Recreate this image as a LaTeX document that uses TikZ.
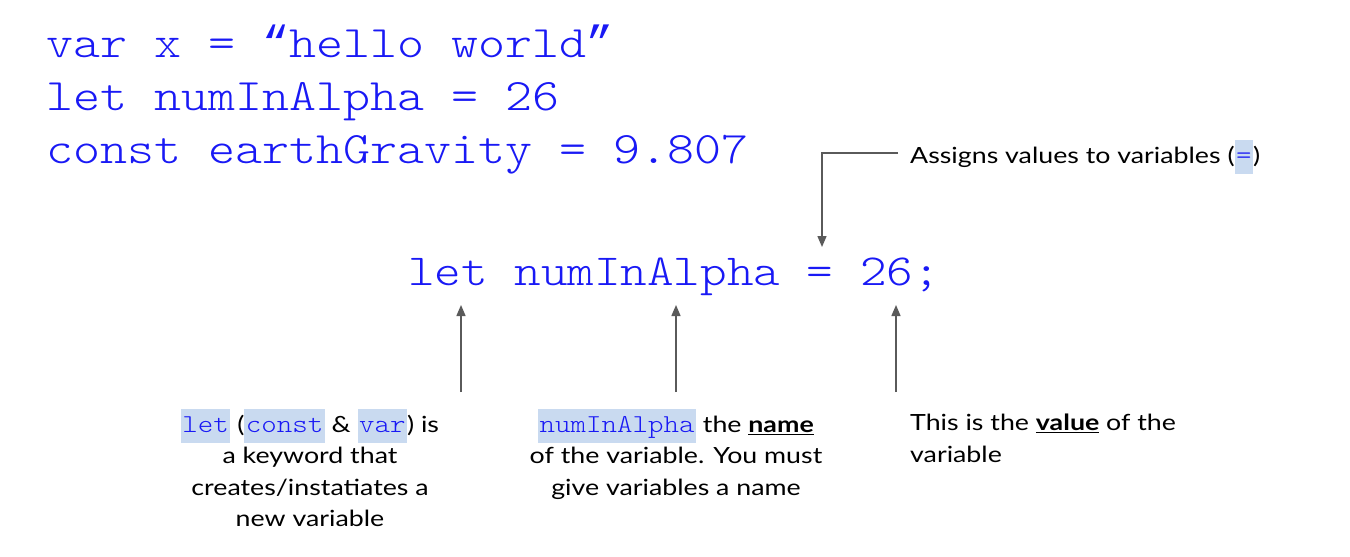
\documentclass[tikz,border=0pt]{standalone}
\usepackage{fontspec}
\setmainfont{Lato}[FakeStretch=1.2]
\newfontfamily\codefont{lmmonolt10-regular.otf}[FakeStretch=1.143]
\newfontfamily\quotefont{Liberation Mono}
\usetikzlibrary{arrows.meta}
\definecolor{codeblue}{RGB}{25,25,245}
\definecolor{hlblue}{RGB}{201,218,240}
\definecolor{arrgray}{RGB}{90,90,90}
\newcommand\hlcode[1]{{\setlength\fboxsep{1.5pt}\colorbox{hlblue}{\codefont\fontsize{25.8}{31}\selectfont\color{codeblue}\strut#1}}}
\newcommand\ulb[1]{\underline{\textbf{#1}}}
\newcommand\myopenq{{\quotefont “}}
\newcommand\mycloseq{{\quotefont ”}}
\tikzset{
  bigcode/.style={anchor=base west,inner sep=0pt,text=codeblue,font=\codefont\fontsize{45}{54}\selectfont},
  midcode/.style={anchor=base west,inner sep=0pt,text=codeblue,font=\codefont\fontsize{44.3}{54}\selectfont},
  lbl/.style={inner sep=0pt,font=\fontsize{22.3}{31.3}\selectfont,text=black},
  arr/.style={draw=arrgray,line width=1.4pt,-{Triangle[length=11pt,width=9pt]}}
}
\begin{document}
\begin{tikzpicture}[x=1pt,y=-1pt]
\useasboundingbox[fill=white] (0,0) rectangle (1350,557);
\node[bigcode] (l1) at (46,57) {var x = \myopenq hello world\mycloseq};
\node[bigcode] (l2) at (46,110) {let numInAlpha = 26};
\node[bigcode] (l3) at (46,163) {const earthGravity = 9.807};
\node[midcode] (mid) at (408,285) {let numInAlpha = 26;};
\node[lbl,anchor=base west] (assign) at (910,163) {Assigns values to variables (\hlcode{=})};
\node[lbl,anchor=north,align=center] (lab1) at (310,409) {\hlcode{let} (\hlcode{const} \& \hlcode{var}) is\\ a keyword that\\ creates/instatiates a\\ new variable};
\node[lbl,anchor=north,align=center] (lab2) at (676,409) {\hlcode{numInAlpha} the \ulb{name}\\ of the variable. You must\\ give variables a name};
\node[lbl,anchor=north west,align=left] (lab3) at (910,414) {This is the \ulb{value} of the\\ variable};
\coordinate (a0s) at (898,153);
\coordinate (a0m) at (822,153);
\coordinate (a0e) at (822,247);
\coordinate (a1s) at (461,392);
\coordinate (a1e) at (461,305);
\coordinate (a2s) at (676,392);
\coordinate (a2e) at (676,305);
\coordinate (a3s) at (896,392);
\coordinate (a3e) at (896,305);
\draw[arr] (a0s) -- (a0m) -- (a0e);
\draw[arr] (a1s) -- (a1e);
\draw[arr] (a2s) -- (a2e);
\draw[arr] (a3s) -- (a3e);
\end{tikzpicture}
\end{document}
